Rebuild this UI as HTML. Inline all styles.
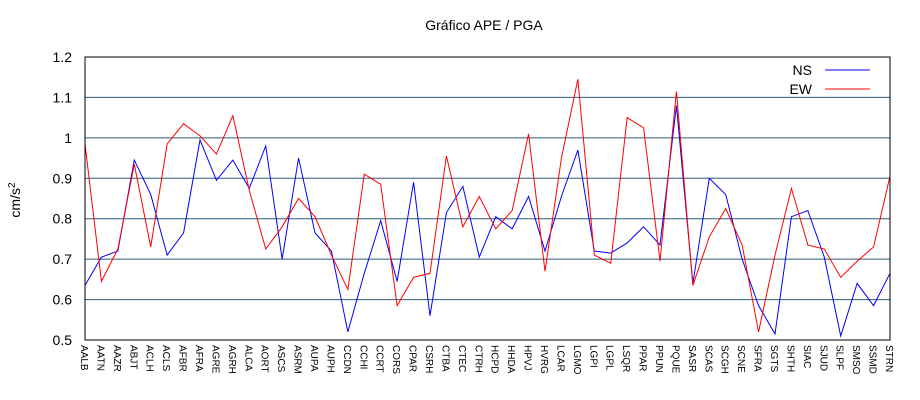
<!DOCTYPE html>
<html><head><meta charset="utf-8"><style>
body{margin:0;background:#fff}
svg{display:block;font-family:"Liberation Sans",sans-serif}
</style></head><body>
<svg id="chart" width="920" height="400" viewBox="0 0 920 400">
<text x="484" y="30" font-size="14" text-anchor="middle">Gráfico  APE / PGA</text>
<text transform="translate(20,200) rotate(-90)" font-size="14" text-anchor="middle">cm/s<tspan dy="-5" font-size="10">2</tspan></text>
<g id="grid"></g><g id="yt"></g><g id="xt"></g><g id="lines"></g>
<rect x="85" y="57" width="805" height="283" fill="none" stroke="#000" stroke-width="1"/>
<g>
<text x="812" y="75" font-size="14" text-anchor="end">NS</text>
<line x1="825" y1="70" x2="870" y2="70" stroke="#0000ff"/>
<text x="812" y="94" font-size="14" text-anchor="end">EW</text>
<line x1="825" y1="89" x2="870" y2="89" stroke="#ff0000"/>
</g>
</svg>
<script>
const categories=["AALB","AATN","AAZR","ABJT","ACLH","ACLS","AFBR","AFRA","AGRE","AGRH","ALCA","AORT","ASCS","ASRM","AUPA","AUPH","CCDN","CCHI","CCRT","CORS","CPAR","CSRH","CTBA","CTEC","CTRH","HCPD","HHDA","HPVJ","HVRG","LCAR","LGMO","LGPI","LGPL","LSQR","PPAR","PPUN","PQUE","SASR","SCAS","SCGH","SCNE","SFRA","SGTS","SHTH","SIAC","SJUD","SLPF","SMSO","SSMD","STRN"];
const nsValues=[.635,.705,.72,.945,.86,.71,.765,.995,.895,.945,.875,.98,.70,.95,.765,.72,.52,.665,.795,.645,.89,.56,.815,.88,.705,.805,.775,.855,.72,.855,.97,.72,.715,.74,.78,.735,1.08,.64,.9,.86,.70,.585,.515,.805,.82,.705,.51,.64,.585,.665];
const ewValues=[.985,.645,.725,.935,.73,.985,1.035,1.005,.96,1.055,.87,.725,.78,.85,.805,.71,.625,.91,.885,.585,.655,.665,.955,.78,.855,.775,.82,1.01,.67,.95,1.145,.71,.69,1.05,1.025,.695,1.115,.635,.755,.825,.735,.52,.71,.875,.735,.725,.655,.695,.73,.905];
const yTicks=[0.5,0.6,0.7,0.8,0.9,1,1.1,1.2];
const yTickLabels=["0.5","0.6","0.7","0.8","0.9","1","1.1","1.2"];
const X0=85,X1=890,Y0=340,Y1=57,YMIN=0.5,YMAX=1.2;
const xs=i=>X0+i*(X1-X0)/(categories.length-1);
const ys=v=>Y0-(v-YMIN)/(YMAX-YMIN)*(Y0-Y1);
const NS="http://www.w3.org/2000/svg";
function mk(tag,attrs,parent){const e=document.createElementNS(NS,tag);for(const k in attrs)e.setAttribute(k,attrs[k]);parent.appendChild(e);return e;}
const grid=document.getElementById('grid'),yt=document.getElementById('yt'),xt=document.getElementById('xt'),lines=document.getElementById('lines');
yTicks.forEach((t,i)=>{
  if(t>YMIN&&t<YMAX){const g=mk('line',{x1:X0,x2:X1,y1:ys(t),y2:ys(t),stroke:'#2f5a78','stroke-width':1},grid);
  
  }
  const l=mk('text',{x:72,y:ys(t)+5,'font-size':14,'text-anchor':'end'},yt);
  l.textContent=yTickLabels[i];
  
  
});
categories.forEach((c,i)=>{
  const t=mk('text',{transform:`translate(${xs(i)-4},345) rotate(90)`,'font-size':10},xt);
  t.textContent=c;
  
  
});
function line(vals,color,name){
  const p=mk('polyline',{points:vals.map((v,i)=>xs(i)+','+ys(v)).join(' '),fill:'none',stroke:color,'stroke-width':1},lines);
  
  
}
line(nsValues,'#0000ff','ns-series-line');
line(ewValues,'#ff0000','ew-series-line');
</script>
</body></html>
